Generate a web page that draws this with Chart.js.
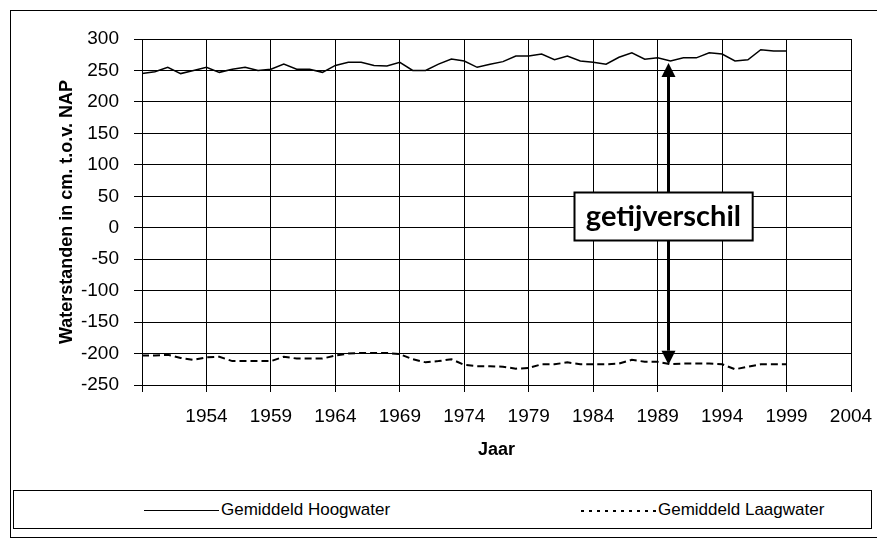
<!DOCTYPE html>
<html lang="nl">

<head>
  <meta charset="UTF-8" />
  <title>Waterstanden t.o.v. NAP</title>
  <script src="https://cdn.jsdelivr.net/npm/chart.js"></script>
  <style>
    body { margin: 0; background: #fff; }
    #wrap { position: relative; width: 877px; height: 540px; overflow: hidden; background: #fff; }
    #frame { position: absolute; left: 10px; top: 10px; width: 880px; height: 526px; border: 1px solid #000; }
    #chart { position: absolute; left: 0; top: 0; }
    #legend {
      position: absolute; left: 13px; top: 490px; width: 857px; height: 37px;
      border: 1px solid #000; background: #fff;
      font: 17px Arial, "Liberation Sans", sans-serif; color: #000;
    }
    .item { position: absolute; top: 0; height: 37px; line-height: 37px; white-space: nowrap; }
    .swatch { display: inline-block; width: 75px; height: 2px; vertical-align: middle; margin-right: 2px; }
    .solid { background: #000; height: 1.5px; }
    .dotted { background: repeating-linear-gradient(90deg, #000 0 3px, transparent 3px 8px); }
  </style>
</head>

<body>
  <div id="wrap">
    <div id="frame"></div>
    <canvas id="chart" width="877" height="540"></canvas>
    <div id="legend"></div>
  </div>

  <script>
    // Gemiddelde hoog- en laagwaterstanden per jaar (cm t.o.v. NAP)
    const years = [
      1949, 1950, 1951, 1952, 1953, 1954, 1955, 1956, 1957, 1958,
      1959, 1960, 1961, 1962, 1963, 1964, 1965, 1966, 1967, 1968,
      1969, 1970, 1971, 1972, 1973, 1974, 1975, 1976, 1977, 1978,
      1979, 1980, 1981, 1982, 1983, 1984, 1985, 1986, 1987, 1988,
      1989, 1990, 1991, 1992, 1993, 1994, 1995, 1996, 1997, 1998,
      1999
    ];
    const hoogwater = [
      245, 248, 255, 245, 250, 255, 247, 252, 255, 250,
      252, 260, 252, 252, 247, 258, 263, 263, 258, 257,
      263, 250, 250, 260, 268, 265, 255, 260, 264, 273,
      273, 276, 267, 273, 265, 263, 260, 271, 278, 268,
      270, 265, 270, 270, 278, 276, 265, 267, 283, 281,
      281
    ];
    const laagwater = [
      -203, -203, -202, -207, -210, -206, -205, -212, -212, -212,
      -212, -205, -208, -208, -208, -203, -200, -199, -199, -199,
      -201, -209, -214, -212, -209, -218, -220, -220, -221, -224,
      -223, -217, -217, -214, -217, -217, -217, -216, -210, -213,
      -213, -217, -216, -216, -216, -217, -225, -221, -217, -217,
      -217
    ];
    const seriesNames = ["Gemiddeld Hoogwater", "Gemiddeld Laagwater"];

    // as-instellingen
    const xMin = 1949, xMax = 2004, xStep = 5;
    const yMin = -250, yMax = 300, yStep = 50;

    // pijl "getijverschil"
    const arrowYear = 1989.8, arrowTop = 262, arrowBottom = -218;
    const labelYear = 1989.45, labelValue = 19, labelText = "getijverschil";

    const FONT = 'Arial, "Liberation Sans", sans-serif';
    Chart.defaults.font.family = FONT;
    Chart.defaults.color = "#000";

    const toPoints = vals => years.map((yr, i) => ({ x: yr, y: vals[i] }));

    const getijPlugin = {
      id: "getij",
      afterDatasetsDraw(chart) {
        const { ctx, scales: { x, y } } = chart;
        const ax = Math.round(x.getPixelForValue(arrowYear)) + 0.5;
        const yTop = y.getPixelForValue(arrowTop);
        const yBot = y.getPixelForValue(arrowBottom);
        const headW = 7, headH = 14;

        ctx.save();
        ctx.strokeStyle = "#000";
        ctx.fillStyle = "#000";
        ctx.lineWidth = 3;
        ctx.beginPath();
        ctx.moveTo(ax, yTop + headH);
        ctx.lineTo(ax, yBot - headH);
        ctx.stroke();

        ctx.beginPath();
        ctx.moveTo(ax, yTop);
        ctx.lineTo(ax - headW, yTop + headH);
        ctx.lineTo(ax + headW, yTop + headH);
        ctx.closePath();
        ctx.fill();

        ctx.beginPath();
        ctx.moveTo(ax, yBot);
        ctx.lineTo(ax - headW, yBot - headH);
        ctx.lineTo(ax + headW, yBot - headH);
        ctx.closePath();
        ctx.fill();

        // label box
        const cx = x.getPixelForValue(labelYear);
        const cy = y.getPixelForValue(labelValue);
        ctx.font = 'bold 29px Lato, "Open Sans", sans-serif';
        const tw = ctx.measureText(labelText).width;
        const bw = tw + 23, bh = 48;
        const bx = Math.round(cx - bw / 2) + 0.5, by = Math.round(cy - bh / 2) + 0.5;
        ctx.fillStyle = "#fff";
        ctx.fillRect(bx, by, bw, bh);
        ctx.lineWidth = 2;
        ctx.strokeRect(bx, by, bw, bh);
        ctx.fillStyle = "#000";
        ctx.textAlign = "center";
        ctx.textBaseline = "middle";
        ctx.fillText(labelText, cx, cy + 1);
        ctx.restore();
      }
    };

    new Chart(document.getElementById("chart"), {
      type: "scatter",
      data: {
        datasets: [
          {
            label: seriesNames[0],
            data: toPoints(hoogwater),
            showLine: true,
            borderColor: "#000",
            borderWidth: 1.5,
            pointRadius: 0,
            tension: 0
          },
          {
            label: seriesNames[1],
            data: toPoints(laagwater),
            showLine: true,
            borderColor: "#000",
            borderWidth: 2,
            borderDash: [7, 4],
            pointRadius: 0,
            tension: 0
          }
        ]
      },
      options: {
        responsive: false,
        animation: false,
        devicePixelRatio: 1,
        layout: { padding: { left: 56, top: 39, right: 26, bottom: 79 } },
        plugins: {
          legend: { display: false },
          tooltip: { enabled: false }
        },
        scales: {
          x: {
            type: "linear",
            min: xMin,
            max: xMax,
            afterFit: s => {
              s.height = 76;
              s.paddingLeft = 0;
              s.paddingRight = 0;
            },
            ticks: {
              stepSize: xStep,
              padding: 13,
              font: { size: 19 },
              maxRotation: 0,
              callback: v => (v === xMin ? "" : String(v))
            },
            grid: { color: "#000", lineWidth: 1, tickLength: 7 },
            border: { color: "#000", width: 1 },
            title: { display: true, text: "Jaar", font: { size: 18, weight: "bold" }, padding: 0 }
          },
          y: {
            min: yMin,
            max: yMax,
            afterFit: s => {
              s.width = 86;
              s.paddingTop = 0;
              s.paddingBottom = 0;
            },
            ticks: { stepSize: yStep, padding: 15, font: { size: 19 } },
            grid: { color: "#000", lineWidth: 1, tickLength: 8 },
            border: { color: "#000", width: 1 },
            title: {
              display: true,
              text: "Waterstanden in cm. t.o.v. NAP",
              font: { size: 18, weight: "bold" },
              padding: 0
            }
          }
        }
      },
      plugins: [getijPlugin]
    });

    // legenda onder de grafiek
    const legend = document.getElementById("legend");
    const legendLeft = [130, 567];
    const legendStyle = ["solid", "dotted"];
    seriesNames.forEach((name, i) => {
      const item = document.createElement("div");
      item.className = "item";
      item.style.left = legendLeft[i] + "px";
      item.innerHTML = `<span class="swatch ${legendStyle[i]}"></span>${name}`;
      legend.appendChild(item);
    });
  </script>
</body>

</html>
